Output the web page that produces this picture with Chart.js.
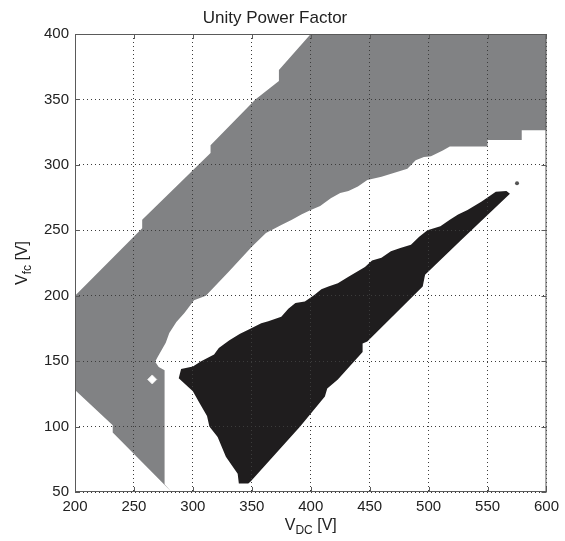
<!DOCTYPE html>
<html>
<head>
<meta charset="utf-8">
<script src="https://cdn.jsdelivr.net/npm/chart.js@4.4.1/dist/chart.umd.min.js"></script>
<style>
html,body{margin:0;padding:0;background:#fff}
#wrap{width:565px;height:541px;position:relative}
</style>
</head>
<body>
<div id="wrap"><canvas id="pfChart"></canvas></div>
<script>

// DATA (V_DC, V_fc)

const xTicks = [200,250,300,350,400,450,500,550,600]
const yTicks = [50,100,150,200,250,300,350,400]

// grey operating region, outline
const grayRegion = [
[200,200],[257,251.5],[257,258],[315,309],[315,315],[353,350],[373,364],[373,372.5],[400,400],
[600,400],[600,326.5],[579,326.5],[579,319],[550,319],[550,314],[518,314],[512,311],[502,306.5],
[496,306],[489,303.5],[482,297],[471,294],[460,291],[448,288.5],[440,283.5],[432,280],[425,278.5],
[417,274.5],[408,268.5],[400,265.5],[392,262],[384,258],[375,254],[362,248],[350,237.5],[330,218],
[311,200],[301,196.5],[293,187],[286,180],[280,171.5],[277,164],[270,153],[268,149.5],[271,145.5],
[276,143],[276,56],[282,50],[232,95.5],[232,101],[200,128]
]

// black region, outline
const blackRegion = [
[288,137],[290,144],[300,146],[307,150],[318,155],[322,160],[331,166],[340,171],[347,174],
[358,179],[364,180.5],[375,184],[381,190],[387,194.5],[395,195.5],[403,200.5],[409,205],[415,207],
[423,209.5],[432,214.5],[446,222],[452,227],[460,229],[468,234],[476,236.5],[485,239],[492,245],
[499,250],[510,253],[518,258],[525,262],[533,265.5],[545,272],[557,279.5],[566,280],[569,278],
[527,242],[497,216],[495,207],[448,165],[444,163.5],[444,157],[423,136],[414,129],[412,123],
[391,100],[349,58],[347,56.5],[339,56.5],[338,64],[328,77],[321,92],[314,100],[312,108],
[305,119],[300,127]
]

const whiteMarker = [[265.5,136]]
const darkMarker = [[575,286]]


const FONT = '"Liberation Sans", Arial, Helvetica, sans-serif'

function toPoints(arr, close){
let pts = arr.map(p => ({x:p[0], y:p[1]}))
if(close) pts.push({x:arr[0][0], y:arr[0][1]})
return pts
}

function drawSub(ctx, main, sub, tail, cx, y){
let big = '16px ' + FONT
let small = '12px ' + FONT
ctx.font = big
let w1 = ctx.measureText(main).width
let w3 = ctx.measureText(tail).width
ctx.font = small
let w2 = ctx.measureText(sub).width
let x = cx - (w1 + w2 + w3) / 2
ctx.textAlign = 'left'
ctx.textBaseline = 'alphabetic'
ctx.font = big
ctx.fillText(main, x, y)
x += w1
ctx.font = small
ctx.fillText(sub, x, y + 4)
x += w2
ctx.font = big
ctx.fillText(tail, x, y)
}

// frame, inward ticks, axis titles with subscripts
const frame = {
id: 'frame',
afterDraw(chart){
let ctx = chart.ctx
let a = chart.chartArea
let sx = chart.scales.x
let sy = chart.scales.y
ctx.save()
ctx.strokeStyle = '#5a5a5a'
ctx.lineWidth = 1
ctx.strokeRect(a.left + 0.5, a.top + 0.5, a.right - a.left - 1, a.bottom - a.top - 1)
ctx.beginPath()
xTicks.forEach(v => {
let px = Math.round(sx.getPixelForValue(v)) + 0.5
ctx.moveTo(px, a.bottom); ctx.lineTo(px, a.bottom - 5)
ctx.moveTo(px, a.top); ctx.lineTo(px, a.top + 5)
})
yTicks.forEach(v => {
let py = Math.round(sy.getPixelForValue(v)) + 0.5
ctx.moveTo(a.left, py); ctx.lineTo(a.left + 5, py)
ctx.moveTo(a.right, py); ctx.lineTo(a.right - 5, py)
})
ctx.stroke()

ctx.fillStyle = '#222'
drawSub(ctx, 'V', 'DC', ' [V]', (a.left + a.right) / 2, 530)
ctx.translate(27, (a.top + a.bottom) / 2)
ctx.rotate(-Math.PI / 2)
drawSub(ctx, 'V', 'fc', ' [V]', 0, 0)
ctx.restore()
}
}

const ctx = document.getElementById('pfChart')

new Chart(ctx, {

type: 'scatter',

data: {
datasets: [
{
data: toPoints(darkMarker),
pointRadius: 2,
pointBackgroundColor: '#555',
pointBorderWidth: 0
},
{
data: toPoints(whiteMarker),
pointStyle: 'rectRot',
pointRadius: 4.5,
pointBackgroundColor: '#fff',
pointBorderColor: '#e6e6e6',
pointBorderWidth: 1
},
{
data: toPoints(blackRegion, true),
showLine: true,
fill: 'shape',
backgroundColor: '#1f1d1e',
borderWidth: 0,
borderColor: 'rgba(0,0,0,0)',
pointRadius: 0,
tension: 0
},
{
data: toPoints(grayRegion, true),
showLine: true,
fill: 'shape',
backgroundColor: '#818284',
borderWidth: 0,
borderColor: 'rgba(0,0,0,0)',
pointRadius: 0,
tension: 0
}
]
},

options: {
responsive: true,
maintainAspectRatio: false,
animation: false,
events: [],
layout: { padding: { left: 0, right: 15, bottom: 0 } },
plugins: {
legend: { display: false },
tooltip: { enabled: false },
title: {
display: true,
text: 'Unity Power Factor',
color: '#222',
font: { family: FONT, size: 17, weight: 'normal' },
padding: { top: 8, bottom: 5.6 }
}
},
scales: {
x: {
type: 'linear',
min: 200,
max: 600,
afterBuildTicks: s => { s.ticks = xTicks.map(v => ({value: v})) },
afterFit: s => { s.height = 49 },
grid: { color: '#3c3c3c', lineWidth: 1, drawTicks: false, z: 1 },
border: { display: false, dash: [1, 3], z: 1 },
ticks: { color: '#222', padding: 6, maxRotation: 0, font: { family: FONT, size: 15 } }
},
y: {
type: 'linear',
min: 50,
max: 400,
afterBuildTicks: s => { s.ticks = yTicks.map(v => ({value: v})) },
afterFit: s => { s.width = 75 },
grid: { color: '#3c3c3c', lineWidth: 1, drawTicks: false, z: 1 },
border: { display: false, dash: [1, 3], z: 1 },
ticks: { color: '#222', padding: 6, font: { family: FONT, size: 15 } }
}
}
},

plugins: [frame]

})

</script>
</body>
</html>
